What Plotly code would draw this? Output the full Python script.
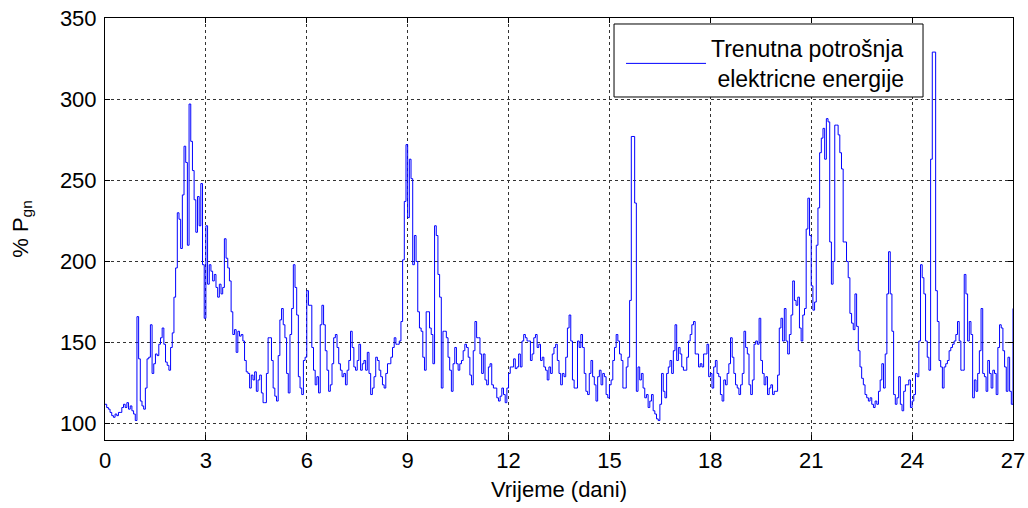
import plotly.graph_objects as go

# Sampling step of the series (days between readings)
STEP_DAYS = 0.05

# Instantaneous consumption, % of P_gn (20 readings per day)
day_00 = [112, 110, 109, 107, 105, 104, 106, 105, 107, 107, 110, 112, 110, 113, 109, 111, 108, 106, 102, 166]
day_01 = [140, 114, 111, 109, 122, 140, 141, 161, 131, 137, 143, 142, 149, 153, 159, 149, 138, 136, 133, 147]
day_02 = [156, 178, 196, 230, 226, 208, 241, 271, 261, 210, 297, 274, 256, 238, 218, 240, 222, 248, 198, 165]
day_03 = [222, 186, 198, 194, 188, 192, 184, 178, 186, 180, 184, 214, 202, 196, 188, 169, 155, 158, 144, 157]
day_04 = [154, 155, 151, 139, 132, 131, 122, 130, 127, 132, 120, 127, 130, 119, 113, 113, 131, 153, 153, 139]
day_05 = [122, 117, 114, 142, 164, 171, 161, 153, 131, 119, 155, 171, 198, 184, 167, 129, 122, 118, 139, 141]
day_06 = [182, 173, 173, 147, 133, 124, 129, 119, 161, 173, 161, 145, 133, 120, 124, 137, 153, 155, 147, 137]
day_07 = [133, 129, 131, 124, 133, 139, 157, 147, 135, 133, 139, 149, 133, 137, 139, 133, 144, 131, 118, 122]
day_08 = [129, 141, 139, 133, 129, 124, 122, 131, 137, 137, 141, 147, 153, 149, 149, 151, 163, 201, 237, 272]
day_09 = [227, 263, 251, 198, 216, 200, 169, 159, 157, 141, 133, 169, 169, 159, 155, 137, 222, 216, 192, 178]
day_10 = [122, 157, 157, 153, 141, 133, 120, 137, 147, 137, 133, 137, 139, 145, 149, 147, 141, 130, 124, 145]
day_11 = [163, 153, 153, 143, 131, 143, 127, 124, 135, 137, 124, 122, 122, 116, 114, 117, 122, 118, 113, 122]
day_12 = [131, 135, 135, 140, 134, 135, 143, 135, 151, 155, 153, 151, 151, 139, 143, 153, 155, 147, 149, 139]
day_13 = [141, 135, 133, 127, 135, 131, 143, 147, 149, 139, 131, 124, 131, 129, 141, 159, 167, 151, 127, 122]
day_14 = [122, 151, 147, 155, 147, 131, 120, 118, 131, 139, 129, 124, 114, 129, 133, 124, 131, 129, 118, 116]
day_15 = [124, 127, 139, 147, 155, 151, 143, 139, 122, 122, 135, 141, 176, 277, 277, 236, 120, 135, 127, 131]
day_16 = [122, 116, 118, 110, 114, 118, 108, 106, 103, 102, 112, 131, 120, 116, 131, 135, 139, 131, 145, 161]
day_17 = [139, 147, 143, 135, 133, 133, 141, 151, 155, 161, 163, 143, 143, 135, 137, 135, 143, 143, 149, 129]
day_18 = [131, 122, 135, 139, 131, 129, 118, 114, 127, 124, 131, 137, 153, 141, 131, 124, 122, 118, 124, 131]
day_19 = [157, 147, 143, 124, 118, 127, 149, 151, 149, 165, 139, 131, 124, 129, 118, 122, 124, 118, 120, 120]
day_20 = [130, 159, 165, 151, 171, 151, 143, 155, 167, 188, 176, 173, 178, 159, 151, 167, 171, 220, 239, 216]
day_21 = [185, 170, 175, 210, 233, 267, 276, 282, 263, 288, 286, 212, 186, 200, 284, 284, 278, 267, 257, 212]
day_22 = [212, 200, 190, 168, 162, 158, 180, 160, 145, 135, 128, 124, 118, 116, 114, 116, 112, 110, 114, 112]
day_23 = [120, 127, 137, 122, 143, 180, 206, 180, 157, 118, 112, 116, 129, 112, 108, 120, 124, 124, 127, 110]
day_24 = [114, 118, 131, 129, 151, 198, 190, 180, 151, 141, 133, 263, 329, 329, 182, 163, 139, 135, 122, 135]
day_25 = [137, 139, 145, 147, 149, 151, 155, 163, 151, 133, 133, 192, 180, 151, 163, 155, 116, 127, 120, 131]
day_26 = [145, 171, 131, 129, 120, 139, 131, 122, 133, 131, 118, 147, 161, 159, 145, 135, 120, 141, 120, 112]
day_27 = [171]

x_ticks = [0, 3, 6, 9, 12, 15, 18, 21, 24, 27]
y_ticks = [100, 150, 200, 250, 300, 350]

series_name = "Trenutna potrošnja<br> elektricne energije"
x_title = "Vrijeme (dani)"
y_title = "% P<sub>gn</sub>"

consumption = (day_00 + day_01 + day_02 + day_03 + day_04 + day_05 + day_06 + day_07
               + day_08 + day_09 + day_10 + day_11 + day_12 + day_13 + day_14 + day_15
               + day_16 + day_17 + day_18 + day_19 + day_20 + day_21 + day_22 + day_23
               + day_24 + day_25 + day_26 + day_27)
time_days = [round(i * STEP_DAYS, 4) for i in range(len(consumption))]

FONT = "Liberation Sans, Arial, Helvetica, sans-serif"

fig = go.Figure()
fig.add_trace(go.Scatter(
    x=time_days, y=consumption, mode="lines", name=series_name,
    line=dict(color="#0000ff", width=1, shape="hv"),
    showlegend=True,
))

axis_common = dict(
    automargin=False,
    showline=True, linecolor="black", linewidth=1, mirror="ticks",
    ticks="inside", ticklen=5, tickcolor="black", tickwidth=1,
    showgrid=True, gridcolor="#333333", gridwidth=1, griddash="dot",
    zeroline=False, tickfont=dict(family=FONT, size=22, color="black"),
)

# legend frame (white box with black border, as in the reference)
fig.add_shape(type="rect", xref="paper", yref="paper",
              x0=0.5606, x1=0.9009, y0=0.8128, y1=0.9858,
              line=dict(color="black", width=1), fillcolor="white", layer="above")

fig.update_layout(
    width=1028, height=508,
    margin=dict(l=105, r=15, t=18, b=68),
    paper_bgcolor="white", plot_bgcolor="white",
    font=dict(family=FONT, size=22, color="black"),
    xaxis=dict(range=[0, 27], tickvals=x_ticks, ticklabelstandoff=1,
               title=dict(text=x_title, font=dict(family=FONT, size=22), standoff=9),
               **axis_common),
    yaxis=dict(range=[90, 350], tickvals=y_ticks, ticklabelstandoff=3,
               title=dict(text=y_title, font=dict(family=FONT, size=22), standoff=25),
               **axis_common),
    legend=dict(x=0.5683, y=0.9787, xanchor="left", yanchor="top",
                bgcolor="rgba(0,0,0,0)", borderwidth=0,
                font=dict(family=FONT, size=23, color="black"),
                itemwidth=80, tracegroupgap=0),
    showlegend=True,
)

fig.write_html("out.html", config={"displayModeBar": False},
               post_script="document.body.style.margin='0px';")
